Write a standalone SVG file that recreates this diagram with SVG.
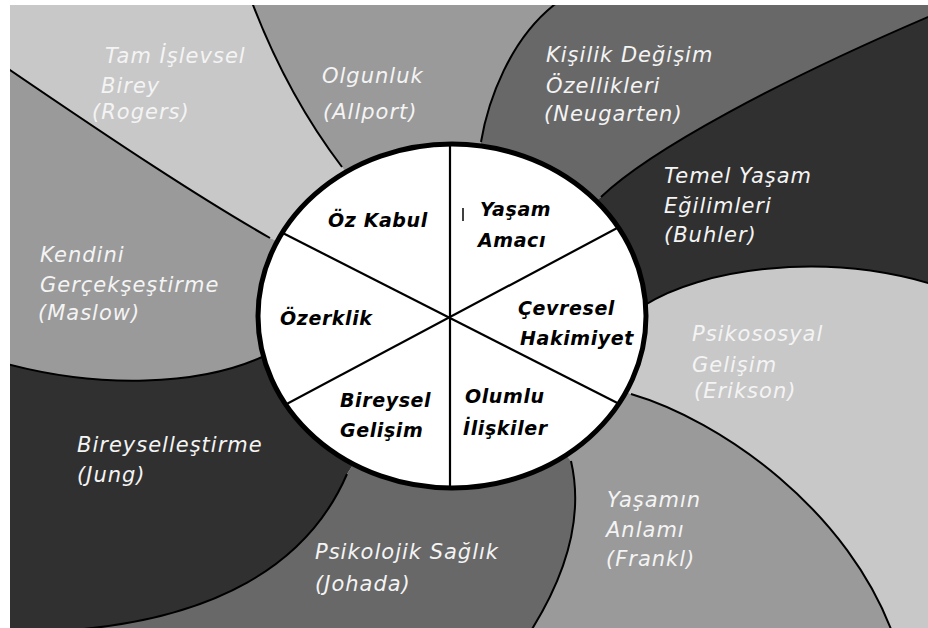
<svg xmlns="http://www.w3.org/2000/svg" width="928" height="628" viewBox="0 0 928 628">
  <defs>
    <clipPath id="frame"><rect x="10" y="5" width="918" height="623"/></clipPath>
    <clipPath id="disc"><ellipse cx="452" cy="316" rx="194" ry="172"/></clipPath>
    <style>
      .c1{fill:#c8c8c8}
      .c2{fill:#9a9a9a}
      .c3{fill:#686868}
      .c4{fill:#303030}
      .edge{fill:none;stroke:#000;stroke-width:2}
      .div{stroke:#000;stroke-width:2.2}
      .ot{font-family:"DejaVu Sans","Liberation Sans",sans-serif;font-style:italic;font-size:21px;letter-spacing:1px;fill:#f4f4f4}
      .it{font-family:"DejaVu Sans","Liberation Sans",sans-serif;font-style:italic;font-weight:bold;font-size:19px;letter-spacing:0.6px;fill:#000}
    </style>
  </defs>
  <rect x="0" y="0" width="928" height="628" fill="#fff"/>
  <g clip-path="url(#frame)">
    <g id="rogers">
      <path class="c1" d="M450,317 L270,238 C200,198 120,145 10,70 L-20,50 L-20,-30 L247,-30 L247,-20 L253,5 C280,75 310,125 342,167 Z"/>
      <text class="ot" x="105" y="63">Tam İşlevsel</text>
      <text class="ot" x="101" y="93">Birey</text>
      <text class="ot" x="92" y="119">(Rogers)</text>
    </g>
    <g id="allport">
      <path class="c2" d="M450,317 L342,167 C310,125 280,75 253,5 L247,-20 L247,-30 L590,-30 L590,-20 L554,5 C510,40 488,100 481,142 Z"/>
      <text class="ot" x="322" y="83">Olgunluk</text>
      <text class="ot" x="323" y="119">(Allport)</text>
    </g>
    <g id="neugarten">
      <path class="c3" d="M450,317 L481,142 C488,100 510,40 554,5 L590,-20 L590,-30 L960,-30 L960,2 L935,14 C780,80 650,150 601,197 Z"/>
      <text class="ot" x="546" y="62">Kişilik Değişim</text>
      <text class="ot" x="546" y="93">Özellikleri</text>
      <text class="ot" x="544" y="121">(Neugarten)</text>
    </g>
    <g id="buhler">
      <path class="c4" d="M450,317 L601,197 C650,150 780,80 935,14 L960,2 L960,295 L935,285 C820,250 700,270 645,305 Z"/>
      <text class="ot" x="664" y="183">Temel Yaşam</text>
      <text class="ot" x="664" y="213">Eğilimleri</text>
      <text class="ot" x="664" y="242">(Buhler)</text>
    </g>
    <g id="erikson">
      <path class="c1" d="M450,317 L645,305 C700,270 820,250 935,285 L960,295 L960,660 L895,660 L895,640 C850,510 720,420 631,394 Z"/>
      <text class="ot" x="692" y="341">Psikososyal</text>
      <text class="ot" x="692" y="372">Gelişim</text>
      <text class="ot" x="694" y="398">(Erikson)</text>
    </g>
    <g id="frankl">
      <path class="c2" d="M450,317 L631,394 C720,420 850,510 895,640 L895,660 L525,660 L525,640 C578,560 580,500 571,461 Z"/>
      <text class="ot" x="607" y="507">Yaşamın</text>
      <text class="ot" x="606" y="537">Anlamı</text>
      <text class="ot" x="606" y="566">(Frankl)</text>
    </g>
    <g id="johada">
      <path class="c3" d="M450,317 L571,461 C580,500 578,560 525,640 L525,660 L-20,660 L-20,640 L40,632 C220,625 310,560 347,474 Z"/>
      <text class="ot" x="315" y="559">Psikolojik Sağlık</text>
      <text class="ot" x="315" y="591">(Johada)</text>
    </g>
    <g id="jung">
      <path class="c4" d="M450,317 L347,474 C310,560 220,625 40,632 L-20,640 L-20,360 L0,362 C100,390 200,385 262,357 Z"/>
      <text class="ot" x="77" y="452">Bireyselleştirme</text>
      <text class="ot" x="77" y="482">(Jung)</text>
    </g>
    <g id="maslow">
      <path class="c2" d="M450,317 L262,357 C200,385 100,390 0,362 L-20,360 L-20,50 L10,70 C120,145 200,198 270,238 Z"/>
      <text class="ot" x="40" y="262">Kendini</text>
      <text class="ot" x="40" y="292">Gerçekşeştirme</text>
      <text class="ot" x="38" y="320">(Maslow)</text>
    </g>
    <g id="boundaries">
      <path class="edge" d="M270,238 C200,198 120,145 10,70 L-20,50"/>
      <path class="edge" d="M342,167 C310,125 280,75 253,5 L247,-20"/>
      <path class="edge" d="M481,142 C488,100 510,40 554,5 L590,-20"/>
      <path class="edge" d="M601,197 C650,150 780,80 935,14"/>
      <path class="edge" d="M645,305 C700,270 820,250 935,285"/>
      <path class="edge" d="M631,394 C720,420 850,510 895,640"/>
      <path class="edge" d="M571,461 C580,500 578,560 525,640"/>
      <path class="edge" d="M347,474 C310,560 220,625 40,632"/>
      <path class="edge" d="M262,357 C200,385 100,390 0,362"/>
    </g>
  </g>
  <g id="wheel">
    <ellipse cx="452" cy="316" rx="194" ry="172" fill="#fff"/>
    <g clip-path="url(#disc)">
      <line class="div" x1="450" y1="100" x2="450" y2="540"/>
      <line class="div" x1="200" y1="191" x2="700" y2="445"/>
      <line class="div" x1="700" y1="184" x2="200" y2="450"/>
    </g>
    <ellipse cx="452" cy="316" rx="194" ry="172" fill="none" stroke="#000" stroke-width="5"/>
  </g>
  <g id="oz-kabul"><text class="it" x="328" y="227">Öz Kabul</text></g>
  <g id="yasam-amaci">
    <line x1="463" y1="208" x2="463" y2="221" stroke="#000" stroke-width="1.5"/>
    <text class="it" x="480" y="216">Yaşam</text>
    <text class="it" x="478" y="247">Amacı</text>
  </g>
  <g id="cevresel-hakimiyet">
    <text class="it" x="518" y="315">Çevresel</text>
    <text class="it" x="520" y="345">Hakimiyet</text>
  </g>
  <g id="olumlu-iliskiler">
    <text class="it" x="465" y="403">Olumlu</text>
    <text class="it" x="463" y="435">İlişkiler</text>
  </g>
  <g id="bireysel-gelisim">
    <text class="it" x="340" y="407">Bireysel</text>
    <text class="it" x="340" y="437">Gelişim</text>
  </g>
  <g id="ozerklik"><text class="it" x="280" y="325">Özerklik</text></g>
</svg>
